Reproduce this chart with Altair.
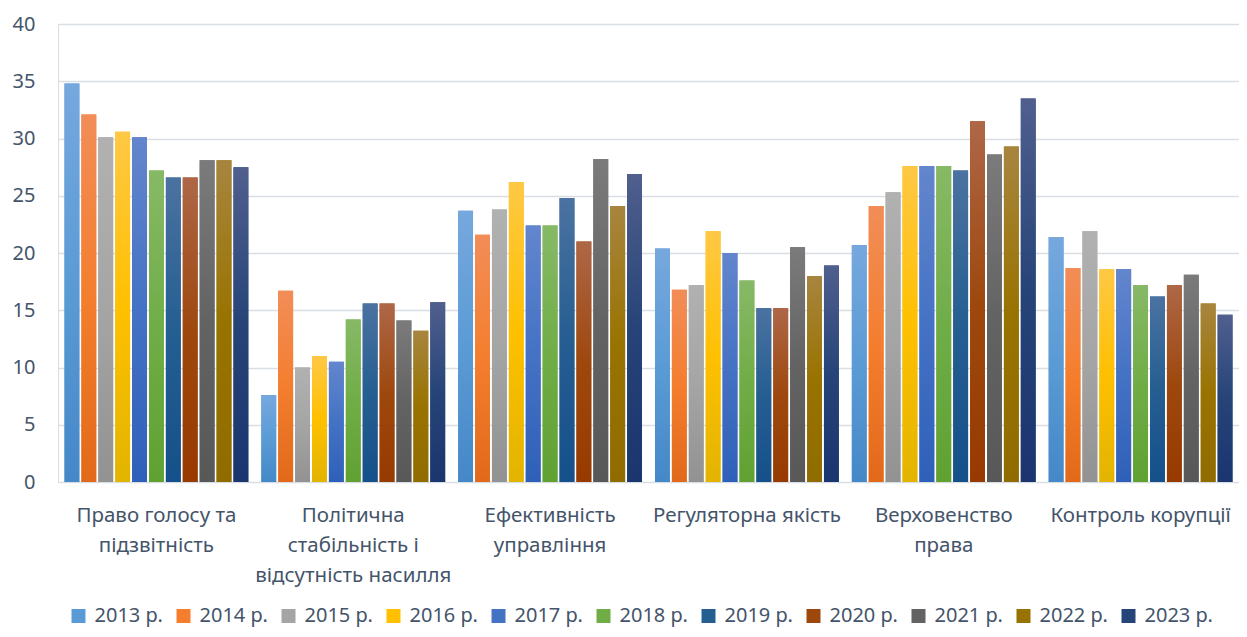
import altair as alt
import pandas as pd

categories = [
    "Право голосу та|підзвітність",
    "Політична|стабільність і|відсутність насилля",
    "Ефективність|управління",
    "Регуляторна якість",
    "Верховенство|права",
    "Контроль корупції",
]
years = ["2013 р.", "2014 р.", "2015 р.", "2016 р.", "2017 р.", "2018 р.",
         "2019 р.", "2020 р.", "2021 р.", "2022 р.", "2023 р."]

v2013 = [34.8, 7.6, 23.7, 20.4, 20.7, 21.4]
v2014 = [32.1, 16.7, 21.6, 16.8, 24.1, 18.7]
v2015 = [30.1, 10.0, 23.8, 17.2, 25.3, 21.9]
v2016 = [30.6, 11.0, 26.2, 21.9, 27.6, 18.6]
v2017 = [30.1, 10.5, 22.4, 20.0, 27.6, 18.6]
v2018 = [27.2, 14.2, 22.4, 17.6, 27.6, 17.2]
v2019 = [26.6, 15.6, 24.8, 15.2, 27.2, 16.2]
v2020 = [26.6, 15.6, 21.0, 15.2, 31.5, 17.2]
v2021 = [28.1, 14.1, 28.2, 20.5, 28.6, 18.1]
v2022 = [28.1, 13.2, 24.1, 18.0, 29.3, 15.6]
v2023 = [27.5, 15.7, 26.9, 18.9, 33.5, 14.6]
values_by_year = [v2013, v2014, v2015, v2016, v2017, v2018,
                  v2019, v2020, v2021, v2022, v2023]

top_colors = ["#76a8de", "#f28d58", "#b1b1b1", "#ffc845", "#6386cd", "#87b966",
              "#4b72a1", "#ae6747", "#7b7b7b", "#a7853f", "#505f8e"]
mid_colors = ["#5b9bd5", "#f47e2e", "#a5a5a5", "#ffc000", "#4472c4", "#70ad47",
              "#255e91", "#9e480e", "#636363", "#997300", "#264478"]
bottom_colors = ["#4588c8", "#e2691a", "#929292", "#e2b400", "#2f60b9", "#60a132",
                 "#15508a", "#973a00", "#585858", "#906c00", "#1b356f"]

rows = []
for yr, vals in zip(years, values_by_year):
    for cat, v in zip(categories, vals):
        rows.append({"category": cat, "year": yr, "value": v})
df = pd.DataFrame(rows)

text_color = "#44546a"
font = "Noto Sans"

base = alt.Chart(df).encode(
    x=alt.X(
        "category:N",
        sort=categories,
        scale=alt.Scale(domain=categories, paddingInner=0.066, paddingOuter=0.033),
        axis=alt.Axis(
            title=None, domain=False, ticks=False, grid=False, labelAngle=0,
            labelFontSize=20.5, labelColor=text_color, labelFont=font,
            labelLineHeight=30, labelPadding=23, labelLimit=400,
            labelExpr="split(datum.label, '|')",
        ),
    ),
    xOffset=alt.XOffset(
        "year:N", sort=years,
        scale=alt.Scale(domain=years, paddingInner=0.12, paddingOuter=0),
    ),
    y=alt.Y(
        "value:Q",
        scale=alt.Scale(domain=[0, 40]),
        axis=alt.Axis(
            title=None, domain=False, ticks=False,
            values=[0, 5, 10, 15, 20, 25, 30, 35, 40],
            labelFontSize=20, labelColor=text_color, labelFont=font,
            labelPadding=23, gridColor="#d9dde4", gridWidth=1.5,
        ),
    ),
)

solid = base.mark_bar().encode(
    color=alt.Color(
        "year:N", sort=years,
        scale=alt.Scale(domain=years, range=mid_colors),
        legend=alt.Legend(
            title=None, orient="none", legendX=10.5, legendY=582,
            direction="horizontal", columns=11,
            symbolType="square", symbolSize=196, symbolStrokeWidth=0,
            labelFontSize=20, labelColor=text_color, labelFont=font,
            labelOffset=6, columnPadding=10,
        ),
    )
)

layers = [solid]
for yr, t, m, b in zip(years, top_colors, mid_colors, bottom_colors):
    grad = alt.Gradient(
        gradient="linear", x1=0, x2=0, y1=0, y2=1,
        stops=[
            alt.GradientStop(offset=0, color=t),
            alt.GradientStop(offset=0.5, color=m),
            alt.GradientStop(offset=1, color=b),
        ],
    )
    layers.append(
        base.transform_filter(alt.datum.year == yr).mark_bar(color=grad, strokeWidth=0)
    )

chart = alt.layer(*layers).properties(
    width=1181, height=458,
    padding={"left": 4, "top": 6, "right": 0, "bottom": 3},
).configure_view(stroke=None).configure(font=font)

chart.save("out.html", embed_options={"renderer": "svg", "actions": False})
